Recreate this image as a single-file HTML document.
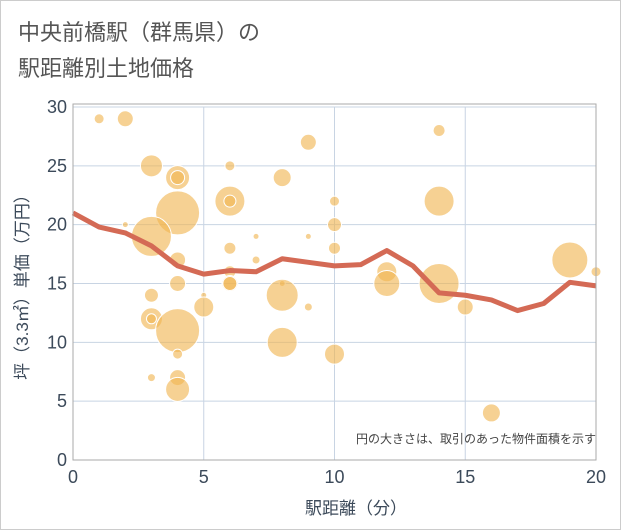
<!DOCTYPE html>
<html><head><meta charset="utf-8"><style>
body{margin:0;background:#fff;font-family:"Liberation Sans","Noto Sans CJK JP",sans-serif;}
</style></head><body>
<svg width="621" height="530" viewBox="0 0 621 530" style="display:block">
<rect x="0.5" y="0.5" width="620" height="529" fill="#fff" stroke="#ccc"/>
<text x="18" y="40" font-size="22" fill="#555">中央前橋駅（群馬県）の</text>
<text x="18" y="76" font-size="22" fill="#555">駅距離別土地価格</text>
<g id="grid"></g>
<g id="bubbles"></g>
<g id="line"></g>
<g id="axes"></g>
<text x="596" y="443" font-size="12" fill="#444" text-anchor="end">円の大きさは、取引のあった物件面積を示す</text>
<text x="356" y="514" font-size="17" fill="#3c4a5a" text-anchor="middle">駅距離（分）</text>
<text transform="translate(28,283) rotate(-90)" font-size="17" fill="#3c4a5a" text-anchor="middle">坪（3.3㎡）単価（万円）</text>
</svg>
<script>
const xTicks=[0,5,10,15,20];
const yTicks=[0,5,10,15,20,25,30];
const bubbleX=[1,2,3,4,4,4,3,2,4,4,3,3,3,4,4,3,4,4,5,5,6,6,6,6,6,6,6,7,7,8,8,8,8,9,9,9,10,10,10,10,12,12,14,14,14,15,16,19,20];
const bubbleY=[29,29,25,24,24,21,19,20,17,15,14,12,12,11,9,7,7,6,14,13,25,22,22,18,16,15,15,19,17,24,15,14,10,27,19,13,22,20,18,9,16,15,28,22,15,13,4,17,16];
const bubbleR=[5,8,11,12,7,22,20,3,8,8,7,11,5,22,5,4,8,12,3,10,5,15,6,6,6,8,7,3,4,9,3,16,15,8,3,4,5,7,6,10,10,13,6,15,20,8,9,18,5];
const lineX=[0,1,2,3,4,5,6,7,8,9,10,11,12,13,14,15,16,17,18,19,20];
const lineY=[21,19.8,19.3,18.2,16.5,15.8,16.1,16.0,17.1,16.8,16.5,16.6,17.8,16.5,14.2,14.0,13.6,12.7,13.3,15.1,14.8];
const NS="http://www.w3.org/2000/svg";
const X0=73,X1=596,Y0=460,Y1=107;
const sx=v=>X0+(v-0)/20*(X1-X0);
const sy=v=>Y0-(v-0)/30*(Y0-Y1);
function mk(t,a,p){const e=document.createElementNS(NS,t);for(const k in a)e.setAttribute(k,a[k]);p.appendChild(e);return e;}
const grid=document.getElementById('grid'),axes=document.getElementById('axes');
xTicks.forEach(v=>{
 const l=mk('line',{x1:sx(v),x2:sx(v),y1:Y1,y2:Y0,stroke:'#c8d4e3','stroke-width':1},grid);
 
 
 const t=mk('text',{x:sx(v),y:Y0+23,'font-size':18,fill:'#3c4a5a','text-anchor':'middle'},axes);
 t.textContent=v;
 
 
});
yTicks.forEach(v=>{
 const l=mk('line',{x1:X0,x2:X1,y1:sy(v),y2:sy(v),stroke:'#c8d4e3','stroke-width':1},grid);
 
 
 const t=mk('text',{x:X0-6,y:sy(v)+6,'font-size':18,fill:'#3c4a5a','text-anchor':'end'},axes);
 t.textContent=v;
 
 
});
const fr=mk('rect',{x:X0,y:Y1-3,width:X1-X0,height:Y0-Y1+3,fill:'none',stroke:'#aaa','stroke-width':1},axes);


const bg=document.getElementById('bubbles');
bubbleX.forEach((x,i)=>{
 const c=mk('circle',{cx:sx(x),cy:sy(bubbleY[i]),r:bubbleR[i],fill:'rgba(240,180,80,0.62)',stroke:'#fff','stroke-width':1},bg);
 
 
});
const pts=lineX.map((x,i)=>sx(x)+','+sy(lineY[i])).join(' ');
const pl=mk('polyline',{points:pts,fill:'none',stroke:'#d46a55','stroke-width':5,'stroke-linejoin':'round'},document.getElementById('line'));


</script>
</body></html>
